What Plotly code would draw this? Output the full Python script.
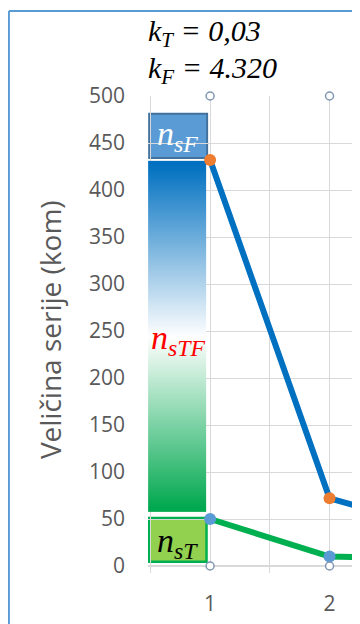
import numpy as np
import plotly.graph_objects as go

# data
x_cat = [1, 2, 3]
n_sF = [432, 72, 36]
n_sT = [50, 10, 8]
lim_top = [500, 500, 500]
lim_bot = [0, 0, 0]
y_ticks = [0, 50, 100, 150, 200, 250, 300, 350, 400, 450, 500]

serif = "Liberation Serif"
sans = "Open Sans"
grey = "#595959"

fig = go.Figure()

# gradient bar (n_sTF zone): blue at top -> white -> green at bottom
n = 60
edges = np.linspace(57.5, 431, n + 1)
fig.add_trace(go.Heatmap(
    x=[0.481, 0.967], y=edges,
    z=[[i / (n - 1)] for i in range(n)],
    colorscale=[[0, "#00A84F"], [0.5, "#FFFFFF"], [1, "#0070C0"]],
    showscale=False, hoverinfo="skip", zsmooth="best"
))

fig.add_trace(go.Scatter(
    x=x_cat, y=n_sF, mode="lines+markers",
    line=dict(color="#0070C0", width=6),
    marker=dict(color="#ED7D31", size=12),
    showlegend=False
))
fig.add_trace(go.Scatter(
    x=x_cat, y=n_sT, mode="lines+markers",
    line=dict(color="#00B050", width=6),
    marker=dict(color="#5B9BD5", size=12),
    showlegend=False
))
for lim in (lim_top, lim_bot):
    fig.add_trace(go.Scatter(
        x=x_cat, y=lim, mode="markers", cliponaxis=False,
        marker=dict(color="white", size=8, line=dict(color="#7F96B2", width=1.5)),
        showlegend=False
    ))

# boxes
fig.add_shape(type="rect", x0=0.49, x1=0.975, y0=434, y1=481, layer="below",
              fillcolor="#5B9BD5", line=dict(color="#41719C", width=2))
fig.add_shape(type="rect", x0=0.49, x1=0.97, y0=4.5, y1=51, layer="below",
              fillcolor="#92D050", line=dict(color="#00B050", width=2.5))

# outer frame (top and left edges)
fig.add_shape(type="line", xref="paper", yref="paper",
              x0=-0.656, x1=1.05, y0=1.181, y1=1.181,
              line=dict(color="#5B9BD5", width=2))
fig.add_shape(type="line", xref="paper", yref="paper",
              x0=-0.656, x1=-0.656, y0=1.181, y1=-0.16,
              line=dict(color="#5B9BD5", width=2))

ann = [
    dict(x=0.728, y=457, text="<i>n<sub>sF</sub></i>", color="white"),
    dict(x=0.728, y=240, text="<i>n<sub>sTF</sub></i>", color="#FF0000"),
    dict(x=0.728, y=24, text="<i>n<sub>sT</sub></i>", color="black"),
]
for a in ann:
    fig.add_annotation(x=a["x"], y=a["y"], text=a["text"], showarrow=False,
                       xanchor="center", yanchor="middle",
                       font=dict(family=serif, size=34, color=a["color"]))

fig.add_annotation(xref="paper", yref="paper", x=-0.01, y=1.135,
                   xanchor="left", yanchor="middle",
                   text="<i>k<sub>T</sub> = 0,03</i>", showarrow=False,
                   font=dict(family=serif, size=30, color="black"))
fig.add_annotation(xref="paper", yref="paper", x=-0.01, y=1.055,
                   xanchor="left", yanchor="middle",
                   text="<i>k<sub>F</sub> = 4.320</i>", showarrow=False,
                   font=dict(family=serif, size=30, color="black"))
fig.add_annotation(xref="paper", yref="paper", x=-0.462, y=0.502,
                   xanchor="center", yanchor="middle",
                   text="Veličina serije (kom)", textangle=-90, showarrow=False,
                   font=dict(family=sans, size=28, color=grey))

fig.update_xaxes(
    range=[0.48, 2.255], tickvals=[1, 2], ticktext=["1", "2"],
    showgrid=True, gridcolor="#D9D9D9", gridwidth=1, ticks="",
    minor=dict(tickvals=[0.5, 1.5], showgrid=True, gridcolor="#D9D9D9",
               ticks="outside", ticklen=6, tickcolor="#D9D9D9"),
    zeroline=False, showline=False, ticklabelstandoff=23,
    tickfont=dict(family=sans, size=21, color=grey)
)
fig.update_yaxes(
    range=[0, 500], tickvals=y_ticks, showgrid=True, gridcolor="#D9D9D9",
    zeroline=True, zerolinecolor="#D9D9D9", zerolinewidth=1.5,
    ticklabelstandoff=22, tickfont=dict(family=sans, size=21, color=grey)
)
# page body adds an 8px offset, so margins are shifted to keep the plot in place
fig.update_layout(
    width=360, height=624, autosize=False,
    margin=dict(l=140, r=8, t=88, b=66),
    paper_bgcolor="white", plot_bgcolor="white", showlegend=False
)

fig.write_html("out.html")
